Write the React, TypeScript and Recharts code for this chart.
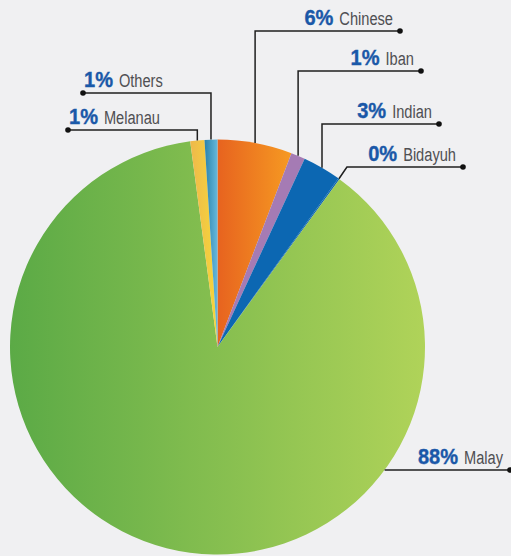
import React from 'react';
import { PieChart, Pie, Cell } from 'recharts';

// ethnic composition, clockwise from 12 o'clock
const groups = ['Chinese', 'Iban', 'Indian', 'Bidayuh', 'Malay', 'Melanau', 'Others'];
const shares = [5.8, 1.1, 3.0, 0.1, 87.9, 1.1, 1.0];

const data = groups.map((name, i) => ({ name, value: shares[i] }));

const fills: Record<string, string> = {
  Chinese: 'url(#gChinese)',
  Iban: '#a57bb4',
  Indian: '#0c67b2',
  Bidayuh: '#0c67b2',
  Malay: 'url(#gMalay)',
  Melanau: 'url(#gMelanau)',
  Others: 'url(#gOthers)',
};

// leader line layout: elbow height, end dot x, side
const leaders: Record<string, { y: number; endX: number; left?: boolean; kink?: number; onRow?: boolean }> = {
  Chinese: { y: 31, endX: 400 },
  Iban: { y: 71, endX: 421 },
  Indian: { y: 124, endX: 439 },
  Bidayuh: { y: 167, endX: 463, kink: 8 },
  Malay: { y: 470, endX: 510, onRow: true },
  Melanau: { y: 130, endX: 68, left: true },
  Others: { y: 93, endX: 83, left: true },
};

const FONT = "'Liberation Sans', Arial, sans-serif";
const PCT_SIZE = 22.5;
const NAME_SIZE = 19;
const PCT_SCALE = 0.89;
const NAME_SCALE = 0.77;
const GAP = 6;
const RAD = Math.PI / 180;

let ctx: CanvasRenderingContext2D | null = null;
const measure = (s: string, font: string) => {
  if (!ctx) ctx = document.createElement('canvas').getContext('2d');
  if (!ctx) return s.length * 10;
  ctx.font = font;
  return ctx.measureText(s).width;
};

const renderLabel = (props: any) => {
  const { cx, cy, midAngle, outerRadius, name, value } = props;
  const l = leaders[name];
  if (!l) return null;
  let sx = cx + outerRadius * Math.cos(-midAngle * RAD);
  let sy = cy + outerRadius * Math.sin(-midAngle * RAD);
  if (l.onRow) {
    sy = l.y;
    sx = cx + Math.sqrt(outerRadius * outerRadius - (l.y - cy) * (l.y - cy));
  }
  const ex = sx + (l.kink || 0);
  const pts = `${sx},${sy} ${ex},${l.y} ${l.endX},${l.y}`;
  const pct = `${Math.round(value)}%`;
  const pw = measure(pct, `bold ${PCT_SIZE}px 'Liberation Sans'`) * PCT_SCALE;
  const nw = measure(name, `${NAME_SIZE}px 'Liberation Sans'`) * NAME_SCALE;
  const ty = l.y - 6;
  let px: number;
  let nx: number;
  if (l.left) {
    px = l.endX + 1;
    nx = px + pw + GAP;
  } else {
    nx = l.endX - 7 - nw;
    px = nx - GAP - pw;
  }
  return (
    <g key={name}>
      <polyline points={pts} fill="none" stroke="#1f1f1f" strokeWidth={1.5} />
      <circle cx={l.endX} cy={l.y} r={2.8} fill="#111" />
      <text
        transform={`translate(${px},${ty}) scale(${PCT_SCALE},1)`}
        fontFamily={FONT}
        fontWeight="bold"
        fontSize={PCT_SIZE}
        fill="#1a58a8"
        stroke="#1a58a8"
        strokeWidth={0.4}
      >
        {pct}
      </text>
      <text
        transform={`translate(${nx},${ty}) scale(${NAME_SCALE},1)`}
        fontFamily={FONT}
        fontSize={NAME_SIZE}
        fill="#4f4f52"
      >
        {name}
      </text>
    </g>
  );
};

export default function App() {
  return (
    <div style={{ position: 'absolute', left: 0, top: 0, width: 511, height: 556, background: '#f0f0f2' }}>
      <PieChart width={511} height={556} margin={{ top: 0, right: 0, bottom: 0, left: 0 }}>
        <defs>
          <linearGradient id="gMalay" x1="0" y1="0" x2="1" y2="0">
            <stop offset="0%" stopColor="#5baa46" />
            <stop offset="100%" stopColor="#b0d359" />
          </linearGradient>
          <linearGradient id="gChinese" x1="0" y1="0" x2="1" y2="0">
            <stop offset="0%" stopColor="#e7631f" />
            <stop offset="100%" stopColor="#f69a22" />
          </linearGradient>
          <linearGradient id="gMelanau" x1="0" y1="0" x2="1" y2="0">
            <stop offset="0%" stopColor="#eeb84c" />
            <stop offset="100%" stopColor="#f6d73a" />
          </linearGradient>
          <linearGradient id="gOthers" x1="0" y1="0" x2="1" y2="0">
            <stop offset="0%" stopColor="#2a82ab" />
            <stop offset="100%" stopColor="#66b8dc" />
          </linearGradient>
        </defs>
        <Pie
          data={data}
          dataKey="value"
          nameKey="name"
          cx={217.5}
          cy={347}
          outerRadius={207.5}
          startAngle={90}
          endAngle={-270}
          stroke="none"
          label={renderLabel}
          labelLine={false}
          isAnimationActive={false}
        >
          {data.map((d) => (
            <Cell key={d.name} fill={fills[d.name]} />
          ))}
        </Pie>
      </PieChart>
    </div>
  );
}
